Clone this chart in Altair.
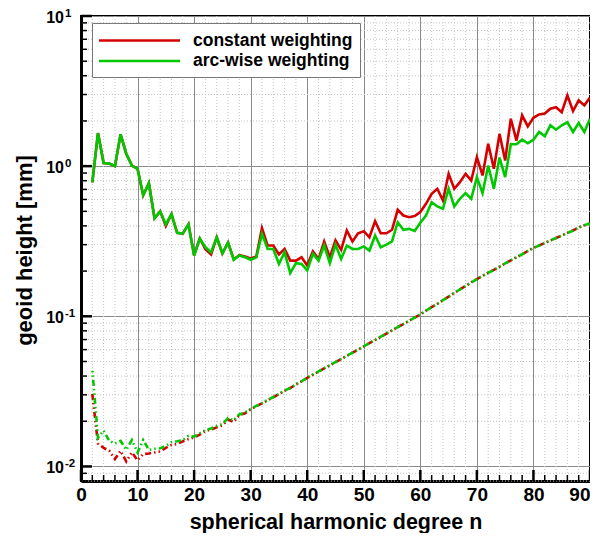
import altair as alt
import pandas as pd

FONT = "Liberation Sans"

degree = list(range(2, 91))

constant_upper = [0.78, 1.66, 1.05, 1.04, 1.00, 1.63, 1.21, 1.01, 0.96,
    0.64, 0.77, 0.45, 0.50, 0.40, 0.48, 0.36, 0.355, 0.41, 0.255,
    0.33, 0.28, 0.258, 0.336, 0.262, 0.31, 0.24, 0.255, 0.25, 0.243,
    0.25, 0.386, 0.296, 0.296, 0.258, 0.281, 0.235, 0.235, 0.247, 0.218,
    0.271, 0.241, 0.315, 0.247, 0.32, 0.277, 0.373, 0.315, 0.357, 0.369,
    0.336, 0.43, 0.357, 0.357, 0.377, 0.512, 0.469, 0.457, 0.465, 0.495,
    0.561, 0.655, 0.707, 0.591, 0.889, 0.707, 0.782, 0.889, 0.803, 1.148,
    0.867, 1.41, 0.96, 1.64, 1.09, 2.07, 1.48, 2.18, 1.84, 2.10,
    2.21, 2.24, 2.41, 2.47, 2.29, 2.96, 2.33, 2.74, 2.54, 2.86]

arcwise_upper = [0.78, 1.66, 1.05, 1.04, 1.00, 1.63, 1.21, 1.01, 0.96,
    0.64, 0.77, 0.45, 0.50, 0.41, 0.48, 0.36, 0.355, 0.41, 0.254,
    0.33, 0.288, 0.267, 0.336, 0.263, 0.31, 0.238, 0.254, 0.247, 0.238,
    0.247, 0.354, 0.281, 0.281, 0.223, 0.267, 0.194, 0.226, 0.223, 0.202,
    0.261, 0.235, 0.296, 0.226, 0.299, 0.241, 0.296, 0.281, 0.281, 0.292,
    0.274, 0.345, 0.288, 0.30, 0.315, 0.423, 0.377, 0.382, 0.37, 0.42,
    0.469, 0.575, 0.539, 0.52, 0.707, 0.539, 0.606, 0.661, 0.606, 0.845,
    0.661, 1.01, 0.707, 1.14, 0.845, 1.40, 1.40, 1.50, 1.42, 1.50,
    1.69, 1.58, 1.87, 1.75, 1.87, 1.96, 1.69, 1.94, 1.69, 2.07]

constant_lower = [0.0304, 0.0142, 0.0133, 0.0127, 0.0112, 0.0127, 0.0108, 0.0124, 0.0110,
    0.0121, 0.0122, 0.0124, 0.0126, 0.0133, 0.0139, 0.0141, 0.0147, 0.0152, 0.0156,
    0.0163, 0.0172, 0.0176, 0.0182, 0.0188, 0.0205, 0.0198, 0.0220, 0.0226, 0.0240,
    0.0252, 0.0263, 0.0276, 0.0289, 0.0303, 0.0319, 0.0333, 0.0351, 0.0368, 0.0389,
    0.0408, 0.0428, 0.0450, 0.0471, 0.0495, 0.0519, 0.0545, 0.0572, 0.0600, 0.0630,
    0.0662, 0.0695, 0.0730, 0.0767, 0.0805, 0.0846, 0.0888, 0.0933, 0.0980, 0.1030,
    0.109, 0.115, 0.121, 0.128, 0.135, 0.143, 0.151, 0.159, 0.168, 0.177,
    0.186, 0.195, 0.204, 0.214, 0.225, 0.236, 0.247, 0.259, 0.272, 0.285,
    0.296, 0.308, 0.320, 0.332, 0.345, 0.359, 0.373, 0.390, 0.404, 0.415]

arcwise_lower = [0.0446, 0.0155, 0.0173, 0.0148, 0.0142, 0.0148, 0.0129, 0.0150, 0.0124,
    0.0150, 0.0129, 0.0131, 0.0132, 0.0137, 0.0145, 0.0147, 0.0150, 0.0160, 0.0158,
    0.0166, 0.0175, 0.0179, 0.0186, 0.0192, 0.0210, 0.0203, 0.0222, 0.0229, 0.0242,
    0.0253, 0.0264, 0.0277, 0.0290, 0.0304, 0.0320, 0.0334, 0.0352, 0.0369, 0.0390,
    0.0409, 0.0429, 0.0451, 0.0472, 0.0496, 0.0520, 0.0546, 0.0573, 0.0601, 0.0631,
    0.0663, 0.0696, 0.0731, 0.0768, 0.0806, 0.0847, 0.0889, 0.0934, 0.0981, 0.1031,
    0.109, 0.115, 0.121, 0.128, 0.135, 0.143, 0.151, 0.159, 0.168, 0.177,
    0.186, 0.195, 0.204, 0.214, 0.225, 0.236, 0.247, 0.259, 0.272, 0.285,
    0.296, 0.308, 0.320, 0.332, 0.345, 0.359, 0.373, 0.390, 0.404, 0.416]

series_names = ["constant weighting", "arc-wise weighting"]
series_colors = ["#d40000", "#00c800"]

x_major = [0, 10, 20, 30, 40, 50, 60, 70, 80, 90]
x_minor = [v for v in range(0, 91, 2) if v % 10 != 0]
y_major = [0.01, 0.1, 1, 10]
y_exponents = ["-2", "-1", "0", "1"]
y_minor = [0.008, 0.009,
           0.02, 0.03, 0.04, 0.05, 0.06, 0.07, 0.08, 0.09,
           0.2, 0.3, 0.4, 0.5, 0.6, 0.7, 0.8, 0.9,
           2, 3, 4, 5, 6, 7, 8, 9]

W, H = 509, 465

xscale = alt.Scale(domain=[0, 90], nice=False, zero=False)
yscale = alt.Scale(type="log", domain=[0.008, 10], nice=False)
cscale = alt.Scale(domain=series_names, range=series_colors)

xaxis = alt.Axis(values=x_major, grid=True, gridColor="#8a8a8a", gridWidth=1,
                 ticks=False, domainColor="black", domainWidth=3,
                 labelFont=FONT, labelFontSize=19, labelFontWeight="bold",
                 labelColor="black", labelPadding=4, labelFlush=False,
                 labelOverlap=False, format="d",
                 labelAlign={"condition": {"test": "datum.value >= 90", "value": "right"},
                             "value": "center"},
                 title="spherical harmonic degree n", titleFont=FONT,
                 titleFontSize=21.5, titleFontWeight="bold", titleColor="black",
                 titleBaseline="alphabetic", titleY=47)

yaxis = alt.Axis(values=y_major, grid=True, gridColor="#8a8a8a", gridWidth=1,
                 ticks=False, domainColor="black", domainWidth=3, labels=False,
                 title="geoid height [mm]", titleFont=FONT,
                 titleFontSize=22, titleFontWeight="bold", titleColor="black",
                 titleBaseline="alphabetic", titleX=-50, titleY=234, titleAngle=270)

legend = alt.Legend(title=None, orient="none", legendX=11, legendY=7,
                    symbolType="M-4.5,0H4.5", symbolSize=324, symbolStrokeWidth=2.5,
                    symbolOffset=30, labelOffset=43, labelFont=FONT,
                    labelFontSize=17.5, labelFontWeight="bold", labelColor="black",
                    labelLimit=400, fillColor="white", strokeColor="#777777",
                    padding=7, rowPadding=1.5)

X = alt.X("n:Q", scale=xscale, axis=xaxis)
Y = alt.Y("val:Q", scale=yscale, axis=yaxis)


def curve(values, name):
    return pd.DataFrame({"n": degree, "val": values, "series": name})


vgrid = alt.Chart(pd.DataFrame({"n": x_minor})).mark_rule(
    color="#c4c4c4", strokeDash=[1, 2], strokeWidth=1
).encode(x=X)

hgrid = alt.Chart(pd.DataFrame({"val": y_minor})).mark_rule(
    color="#c4c4c4", strokeDash=[1, 2], strokeWidth=1
).encode(y=Y)


def solid(values, name):
    return alt.Chart(curve(values, name)).mark_line(strokeWidth=2.6).encode(
        x=X, y=Y,
        color=alt.Color("series:N", scale=cscale, legend=legend),
    )


def dashed(values, name, color, offset):
    return alt.Chart(curve(values, name)).mark_line(
        strokeWidth=2.6, color=color, strokeDash=[6, 3, 1.5, 3, 1.5, 3],
        strokeDashOffset=offset
    ).encode(x=X, y=Y)


def xticks(vals, length, width):
    return alt.Chart(pd.DataFrame({"n": vals})).mark_rule(
        color="black", strokeWidth=width
    ).encode(
        x=X, y=alt.value(H), y2=alt.value(H - length),
    )


def yticks(vals, length, width):
    return alt.Chart(pd.DataFrame({"val": vals})).mark_rule(
        color="black", strokeWidth=width
    ).encode(
        y=Y, x=alt.value(0), x2=alt.value(length),
    )


ylab_df = pd.DataFrame({"val": y_major, "exp": y_exponents})
ylab_base = alt.Chart(ylab_df).mark_text(
    text="10", font=FONT, fontSize=16, fontWeight="bold", color="black",
    align="right", baseline="alphabetic", dy=7
).encode(y=Y, x=alt.value(-17))
ylab_exp = alt.Chart(ylab_df).mark_text(
    font=FONT, fontSize=11.5, fontWeight="bold", color="black",
    align="left", baseline="alphabetic", dy=0.5
).encode(y=Y, x=alt.value(-16), text="exp:N")

chart = alt.layer(
    vgrid, hgrid,
    solid(constant_upper, series_names[0]),
    solid(arcwise_upper, series_names[1]),
    dashed(constant_lower, series_names[0], series_colors[0], 0),
    dashed(arcwise_lower, series_names[1], series_colors[1], 7),
    xticks(x_major, 11, 2.5), xticks(x_minor, 6, 1.5),
    yticks(y_major, 11, 2.5), yticks(y_minor, 6, 1.5),
    ylab_base, ylab_exp,
).properties(
    width=W, height=H,
    autosize=alt.AutoSizeParams(type="none"),
    padding={"left": 73, "top": 8, "right": 0, "bottom": 52},
).configure_view(stroke="black", strokeWidth=2)

chart.save("out.html", embed_options={"renderer": "svg", "actions": False})
